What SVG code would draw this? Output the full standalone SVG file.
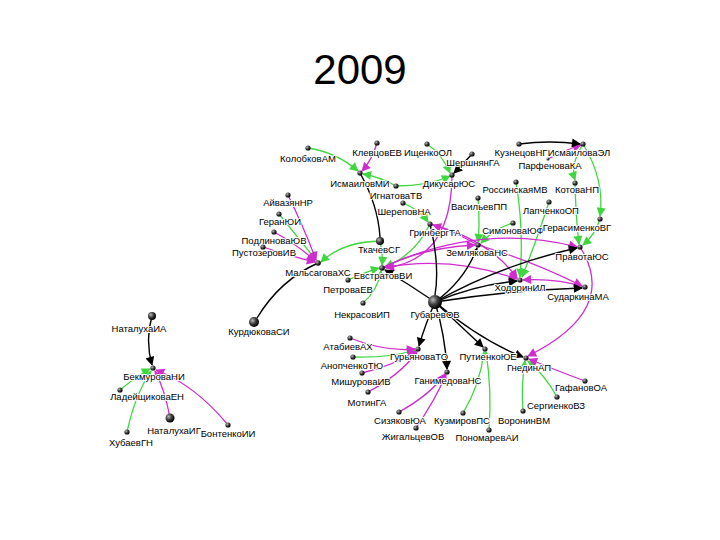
<svg xmlns="http://www.w3.org/2000/svg" width="720" height="540" viewBox="0 0 720 540">
<defs>
<radialGradient id="sph" cx="35%" cy="35%" r="65%"><stop offset="0" stop-color="#bbb"/><stop offset="0.5" stop-color="#444"/><stop offset="1" stop-color="#000"/></radialGradient>
<marker id="ag" viewBox="0 0 10 10" refX="9" refY="5" markerWidth="10" markerHeight="9" markerUnits="userSpaceOnUse" orient="auto"><path d="M0,0 L10,5 L0,10 z" fill="#3ed83e"/></marker>
<marker id="am" viewBox="0 0 10 10" refX="9" refY="5" markerWidth="10" markerHeight="9" markerUnits="userSpaceOnUse" orient="auto"><path d="M0,0 L10,5 L0,10 z" fill="#d02cd0"/></marker>
<marker id="ab" viewBox="0 0 10 10" refX="9" refY="5" markerWidth="10" markerHeight="9" markerUnits="userSpaceOnUse" orient="auto"><path d="M0,0 L10,5 L0,10 z" fill="#000"/></marker>
</defs>
<style>
.g{fill:none;stroke:#3ed83e;stroke-width:1.3;marker-end:url(#ag)}
.m{fill:none;stroke:#d02cd0;stroke-width:1.3;marker-end:url(#am)}
.b{fill:none;stroke:#000;stroke-width:1.4;marker-end:url(#ab)}
.bn{fill:none;stroke:#000;stroke-width:1.4}
.d{fill:url(#sph)}
.t{font-family:"Liberation Sans",Arial,sans-serif;font-size:9.5px;fill:#000;text-anchor:middle;stroke:#fff;stroke-width:2;paint-order:stroke;stroke-linejoin:round}
.title{font-family:"Liberation Sans",Arial,sans-serif;font-size:42px;fill:#000;text-anchor:middle}
</style>
<rect width="720" height="540" fill="#fff"/>
<text class="title" x="360" y="84">2009</text>
<g id="connectors">
<path class="g" d="M308,148 Q336,152 358,171"/>
<path class="g" d="M396,186 Q380,177 363,174"/>
<path class="g" d="M396,186 Q428,186 450,176"/>
<path class="g" d="M427,144 Q442,154 450,173"/>
<path class="g" d="M279,214 Q300,240 316,260"/>
<path class="g" d="M380,241 Q342,242 321,262"/>
<path class="g" d="M380,241 Q383,255 382,265"/>
<path class="g" d="M430,224 Q415,255 385,267"/>
<path class="g" d="M348,280 Q365,272 379,268"/>
<path class="g" d="M363,303 Q378,290 381,271"/>
<path class="g" d="M403,203 Q420,210 428,222"/>
<path class="g" d="M478,198 Q480,225 478,242"/>
<path class="g" d="M513,223 Q495,228 481,243"/>
<path class="g" d="M516,182 Q524,230 520,277"/>
<path class="g" d="M549,202 Q535,245 522,277"/>
<path class="g" d="M575,183 Q576,220 579,244"/>
<path class="g" d="M600,219 Q595,235 583,245"/>
<path class="g" d="M583,144 Q570,165 575,180"/>
<path class="g" d="M583,144 Q605,180 600,216"/>
<path class="g" d="M120,390 Q138,375 150,369"/>
<path class="g" d="M127,432 Q135,395 151,371"/>
<path class="g" d="M353,357 Q390,358 415,350"/>
<path class="g" d="M463,413 Q480,385 484,352"/>
<path class="g" d="M489,430 Q492,390 486,352"/>
<path class="g" d="M523,411 Q521,385 525,361"/>
<path class="g" d="M557,397 Q545,375 528,361"/>
<path class="m" d="M377,143 Q372,160 362,171"/>
<path class="m" d="M288,195 Q305,230 316,260"/>
<path class="m" d="M274,232 Q298,245 315,261"/>
<path class="m" d="M263,247 Q290,256 315,262"/>
<path class="m" d="M548,159 Q565,150 581,145"/>
<path class="m" d="M452,175 C452,230 430,262 386,268"/>
<path class="m" d="M382,268 Q420,248 475,245"/>
<path class="m" d="M382,268 Q480,222 577,247"/>
<path class="m" d="M478,245 Q455,232 433,225"/>
<path class="m" d="M430,224 Q490,240 517,278"/>
<path class="m" d="M382,268 Q450,255 517,279"/>
<path class="m" d="M585,287 Q555,278 523,280"/>
<path class="m" d="M478,245 Q530,260 582,286"/>
<path class="m" d="M580,247 Q620,310 528,356"/>
<path class="m" d="M170,418 Q165,390 155,371"/>
<path class="m" d="M228,425 Q195,385 156,370"/>
<path class="m" d="M350,338 Q385,352 415,349"/>
<path class="m" d="M362,373 Q395,365 416,351"/>
<path class="m" d="M368,392 Q400,375 417,352"/>
<path class="m" d="M399,412 Q430,395 445,374"/>
<path class="m" d="M416,428 Q435,400 446,375"/>
<path class="m" d="M585,381 Q555,370 529,359"/>
<path class="b" d="M519,144 Q550,140 580,144"/>
<path class="b" d="M472,154 Q462,165 454,173"/>
<path class="bn" d="M360,173 Q378,205 380,237"/>
<path class="bn" d="M318,263 Q280,280 257,318"/>
<path class="b" d="M152,316 Q145,340 152,365"/>
<path class="b" d="M435,302 Q465,280 477,248"/>
<path class="b" d="M435,302 Q500,265 577,248"/>
<path class="b" d="M435,302 Q475,285 517,281"/>
<path class="b" d="M435,302 Q510,290 582,288"/>
<path class="b" d="M435,302 Q410,285 385,270"/>
<path class="bn" d="M430,224 Q440,265 435,295"/>
<path class="b" d="M435,302 Q425,325 419,346"/>
<path class="b" d="M435,302 Q445,335 447,369"/>
<path class="b" d="M435,302 Q465,330 483,347"/>
<path class="b" d="M435,302 Q480,340 523,357"/>
</g>
<g id="kolobkov"><circle class="d" cx="308" cy="148" r="2.6"/><text class="t" x="308" y="162">КолобковАМ</text></g>
<g id="klevtsov"><circle class="d" cx="377" cy="143" r="2.6"/><text class="t" x="377" y="156">КлевцовЕВ</text></g>
<g id="ishchenko"><circle class="d" cx="427" cy="144" r="2.6"/><text class="t" x="428" y="156">ИщенкоОЛ</text></g>
<g id="shershnyan"><circle class="d" cx="472" cy="154" r="2.6"/><text class="t" x="473" y="166">ШершнянГА</text></g>
<g id="dikusar"><circle class="d" cx="452" cy="175" r="2.6"/><text class="t" x="449" y="187">ДикусарЮС</text></g>
<g id="kuznetsov"><circle class="d" cx="519" cy="144" r="2.6"/><text class="t" x="521" y="156">КузнецовНГ</text></g>
<g id="ismailova"><circle class="d" cx="583" cy="144" r="2.6"/><text class="t" x="579" y="156">ИсмаиловаЭЛ</text></g>
<g id="parfenova"><circle class="d" cx="548" cy="159" r="1.5"/><text class="t" x="550" y="169">ПарфеноваКА</text></g>
<g id="ismailov"><circle class="d" cx="360" cy="173" r="2.6"/><text class="t" x="360" y="187">ИсмаиловМИ</text></g>
<g id="ignatova"><circle class="d" cx="396" cy="186" r="2.6"/><text class="t" x="396" y="199">ИгнатоваТВ</text></g>
<g id="sherepov"><circle class="d" cx="403" cy="203" r="2.6"/><text class="t" x="404" y="215">ШереповНА</text></g>
<g id="ayvazyan"><circle class="d" cx="288" cy="195" r="2.6"/><text class="t" x="288" y="206">АйвазянНР</text></g>
<g id="geran"><circle class="d" cx="279" cy="214" r="2.6"/><text class="t" x="280" y="225">ГеранЮИ</text></g>
<g id="podlinova"><circle class="d" cx="274" cy="232" r="2.6"/><text class="t" x="274" y="244">ПодлиноваЮВ</text></g>
<g id="pustozerov"><circle class="d" cx="263" cy="247" r="2.6"/><text class="t" x="264" y="256">ПустозеровИВ</text></g>
<g id="malsagova"><circle class="d" cx="318" cy="263" r="2.8"/><text class="t" x="318" y="276">МальсаговаХС</text></g>
<g id="tkachev"><circle class="d" cx="380" cy="241" r="4"/><text class="t" x="379" y="253">ТкачевСГ</text></g>
<g id="grinberg"><circle class="d" cx="430" cy="224" r="2.6"/><text class="t" x="435" y="236">ГринбергТА</text></g>
<g id="vasiliev"><circle class="d" cx="478" cy="198" r="2.6"/><text class="t" x="479" y="210">ВасильевПП</text></g>
<g id="rossinskaya"><circle class="d" cx="516" cy="182" r="2.6"/><text class="t" x="515" y="193">РоссинскаяМВ</text></g>
<g id="kotova"><circle class="d" cx="575" cy="183" r="2.6"/><text class="t" x="577" y="193">КотоваНП</text></g>
<g id="lapchenko"><circle class="d" cx="549" cy="202" r="2.6"/><text class="t" x="551" y="214">ЛапченкоОП</text></g>
<g id="simonova"><circle class="d" cx="513" cy="223" r="2.6"/><text class="t" x="513" y="234">СимоноваЮФ</text></g>
<g id="gerasimenko"><circle class="d" cx="600" cy="219" r="2.6"/><text class="t" x="577" y="231">ГерасименкоВГ</text></g>
<g id="zemlyakova"><circle class="d" cx="478" cy="245" r="2.6"/><text class="t" x="477" y="256">ЗемляковаНС</text></g>
<g id="pravota"><circle class="d" cx="580" cy="247" r="2.6"/><text class="t" x="582" y="260">ПравотаЮС</text></g>
<g id="evstratov"><circle class="d" cx="382" cy="268" r="2.8"/><text class="t" x="383" y="279">ЕвстратовВИ</text></g>
<g id="petrova"><circle class="d" cx="348" cy="280" r="2.6"/><text class="t" x="348" y="293">ПетроваЕВ</text></g>
<g id="kurdyukova"><circle class="d" cx="254" cy="322" r="5"/><text class="t" x="259" y="335">КурдюковаСИ</text></g>
<g id="khodorin"><circle class="d" cx="520" cy="280" r="2.6"/><text class="t" x="520" y="291">ХодоринИЛ</text></g>
<g id="sudarkina"><circle class="d" cx="585" cy="287" r="2.6"/><text class="t" x="578" y="300">СударкинаМА</text></g>
<g id="nekrasov"><circle class="d" cx="363" cy="303" r="2.6"/><text class="t" x="362" y="318">НекрасовИП</text></g>
<g id="gubarev"><circle class="d" cx="435" cy="302" r="7"/><text class="t" x="435" y="318">ГубаревОВ</text></g>
<g id="natalukha_ia"><circle class="d" cx="152" cy="316" r="4"/><text class="t" x="139" y="332">НаталухаИА</text></g>
<g id="bekmurova"><circle class="d" cx="153" cy="368" r="2.6"/><text class="t" x="154" y="380">БекмуроваНИ</text></g>
<g id="ladeyshchikova"><circle class="d" cx="120" cy="390" r="2.6"/><text class="t" x="147" y="400">ЛадейщиковаЕН</text></g>
<g id="khubaeva"><circle class="d" cx="127" cy="432" r="2.6"/><text class="t" x="131" y="446">ХубаевГН</text></g>
<g id="natalukha_ig"><circle class="d" cx="170" cy="418" r="4.5"/><text class="t" x="174" y="434">НаталухаИГ</text></g>
<g id="bontenko"><circle class="d" cx="228" cy="425" r="2.6"/><text class="t" x="228" y="437">БонтенкоИИ</text></g>
<g id="atabiev"><circle class="d" cx="350" cy="338" r="2.6"/><text class="t" x="348" y="350">АтабиевАХ</text></g>
<g id="anopchenko"><circle class="d" cx="353" cy="357" r="2.6"/><text class="t" x="352" y="369">АнопченкоТЮ</text></g>
<g id="mishurova"><circle class="d" cx="362" cy="373" r="2.6"/><text class="t" x="361" y="385">МишуроваИВ</text></g>
<g id="motin"><circle class="d" cx="368" cy="392" r="2.6"/><text class="t" x="367" y="406">МотинГА</text></g>
<g id="guryanova"><circle class="d" cx="418" cy="349" r="2.6"/><text class="t" x="419" y="360">ГурьяноваТО</text></g>
<g id="ganimedova"><circle class="d" cx="447" cy="372" r="2.6"/><text class="t" x="448" y="384">ГанимедоваНС</text></g>
<g id="sizyakov"><circle class="d" cx="399" cy="412" r="2.6"/><text class="t" x="400" y="424">СизяковЮА</text></g>
<g id="zhigaltsev"><circle class="d" cx="416" cy="428" r="2.6"/><text class="t" x="413" y="440">ЖигальцевОВ</text></g>
<g id="kuzmirov"><circle class="d" cx="463" cy="413" r="2.6"/><text class="t" x="462" y="424">КузмировПС</text></g>
<g id="ponomarev"><circle class="d" cx="489" cy="430" r="2.6"/><text class="t" x="487" y="441">ПономаревАИ</text></g>
<g id="putienko"><circle class="d" cx="485" cy="349" r="2.6"/><text class="t" x="488" y="360">ПутиенкоЮЕ</text></g>
<g id="gnedin"><circle class="d" cx="526" cy="358" r="2.6"/><text class="t" x="529" y="371">ГнединАП</text></g>
<g id="gafanov"><circle class="d" cx="585" cy="381" r="2.6"/><text class="t" x="581" y="391">ГафановОА</text></g>
<g id="sergienko"><circle class="d" cx="557" cy="397" r="2.6"/><text class="t" x="556" y="409">СергиенкоВЗ</text></g>
<g id="voronin"><circle class="d" cx="523" cy="411" r="2.6"/><text class="t" x="524" y="424">ВоронинВМ</text></g>
</svg>
